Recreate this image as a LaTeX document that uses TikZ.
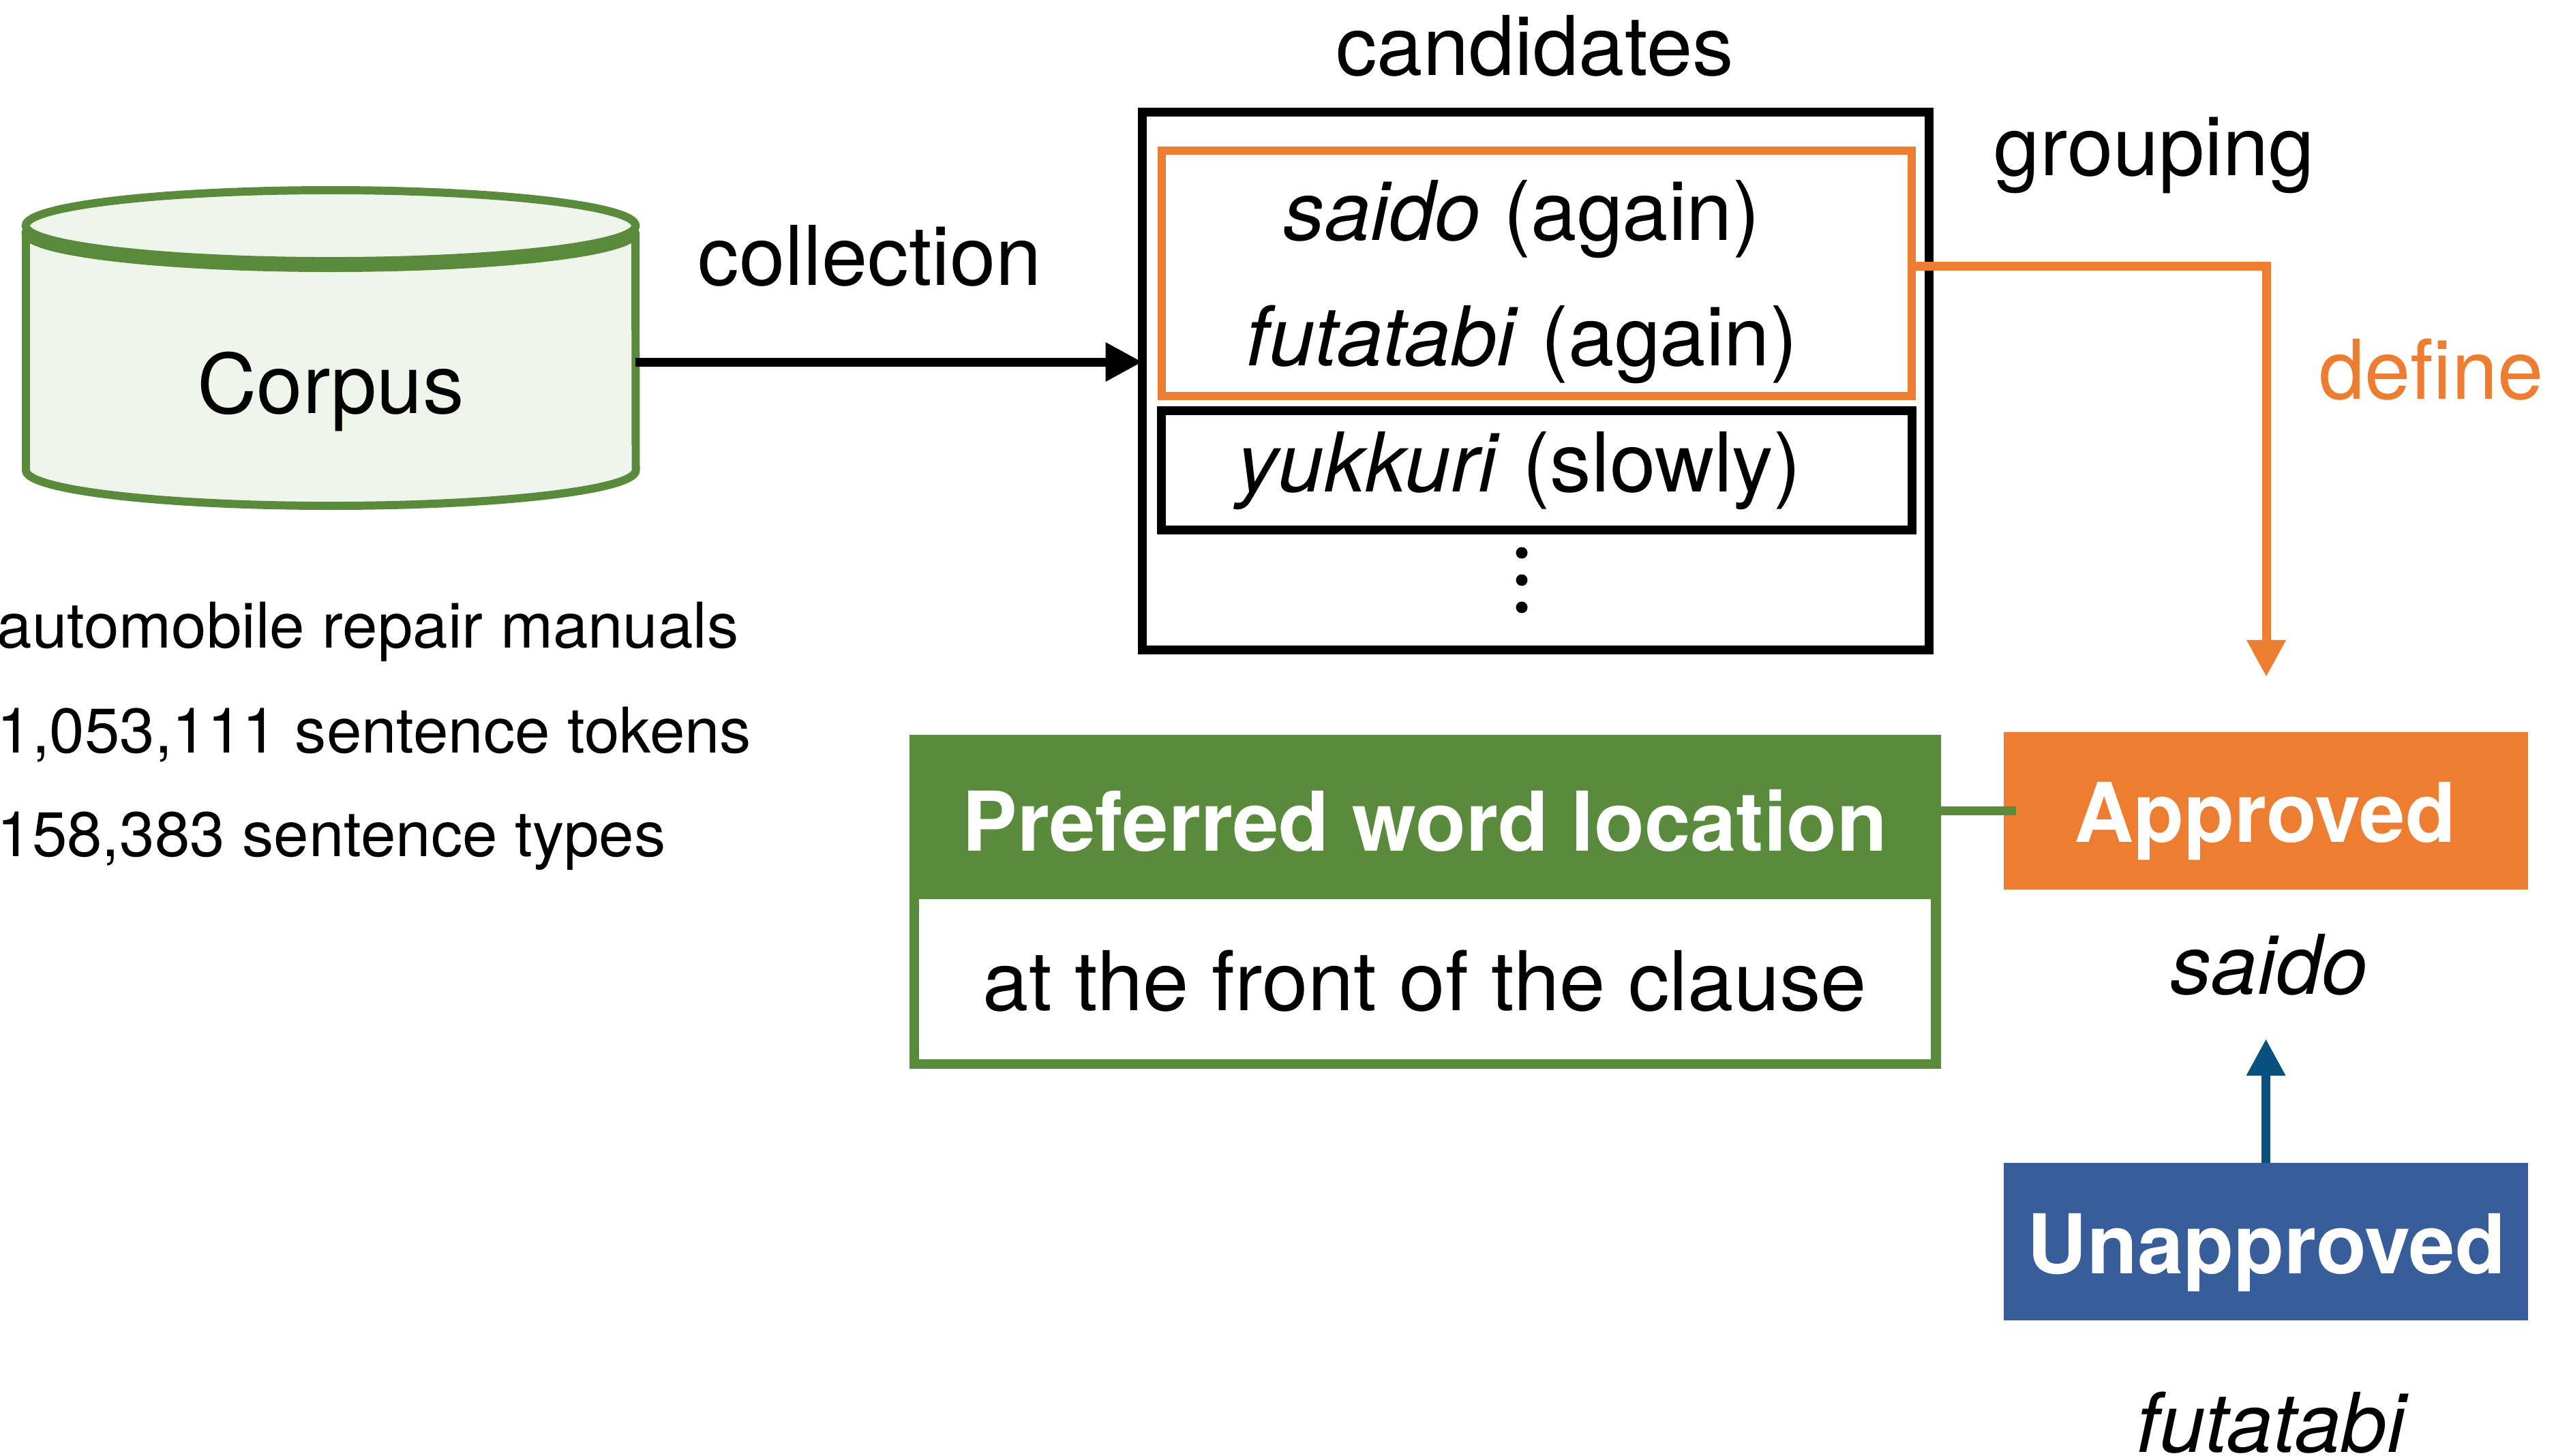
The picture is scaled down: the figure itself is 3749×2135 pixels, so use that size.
\documentclass[tikz,border=0pt]{standalone}
\usepackage{fontspec}
\setmainfont{TeX Gyre Heros}
\usetikzlibrary{arrows.meta}
\definecolor{leafgreen}{RGB}{90,138,60}
\definecolor{palegreen}{RGB}{239,245,234}
\definecolor{tangerine}{RGB}{237,125,49}
\definecolor{steelblue}{RGB}{56,93,155}
\definecolor{navyblue}{RGB}{8,80,126}
\begin{document}
\begin{tikzpicture}[x=0.01cm, y=-0.01cm,
  big/.style={font=\fontsize{34.4}{41}\selectfont, inner sep=0pt, anchor=base},
  bigbold/.style={font=\fontsize{34.4}{41}\selectfont\bfseries, inner sep=0pt, anchor=base, text=white},
  small/.style={font=\fontsize{26.3}{31}\selectfont, inner sep=0pt, anchor=base west},
  box/.style={rectangle, inner sep=0pt, outer sep=0pt},
  tipped/.style={-{Triangle[length=0.54cm,width=0.54cm]}},
  wire/.style={line width=3.7pt}]
\useasboundingbox (0,0) rectangle (3749,2135);
\fill[white] (0,0) rectangle (3749,2135);

% corpus cylinder
\node[box, minimum width=8.94cm, minimum height=4cm] (can) at (485,531) {};
\draw[leafgreen, fill=palegreen, line width=3.4pt, line join=round]
  (38,341) -- (38,690)
  arc[start angle=180, end angle=360, x radius=4.47cm, y radius=0.52cm]
  -- (932,341)
  arc[start angle=0, end angle=-180, x radius=4.47cm, y radius=0.52cm]
  -- cycle;
\draw[leafgreen, fill=palegreen, line width=3.4pt] (485,331) ellipse [x radius=4.47cm, y radius=0.52cm];
\node[big] (t-corpus) at (485,606) {Corpus};

% corpus statistics
\node[small] (s1) at (-5,950) {automobile repair manuals};
\node[small] (s2) at (-5,1104) {1,053,111 sentence tokens};
\node[small] (s3) at (-5,1256) {158,383 sentence types};

% candidate list
\node[box, draw=black, line width=3.7pt, minimum width=11.53cm, minimum height=7.88cm] (cand) at (2252.5,559) {};
\node[box, draw=tangerine, line width=3.4pt, minimum width=11cm, minimum height=3.6cm] (grp) at (2254,401) {};
\node[box, draw=black, line width=3.7pt, minimum width=11cm, minimum height=1.74cm] (slow) at (2254,690) {};
\node[big] (t-cand) at (2251,110) {candidates};
\node[big] (t-saido) at (2232,352) {\textit{saido} (again)};
\node[big] (t-futa) at (2232,536) {\textit{futatabi} (again)};
\node[big] (t-yuk) at (2228,721) {\textit{yukkuri} (slowly)};
\fill (2232,811) circle [radius=0.085cm];
\fill (2232,851) circle [radius=0.085cm];
\fill (2232,891) circle [radius=0.085cm];

\node[big] (t-coll) at (1276,418) {collection};
\node[big] (t-group) at (3160,257) {grouping};
\node[big, text=tangerine] (t-define) at (3566,585) {define};

% preferred word location
\node[box, draw=leafgreen, fill=white, line width=4pt, minimum width=14.98cm, minimum height=4.76cm] (pref) at (2090,1323) {};
\node[box, fill=leafgreen, minimum width=15.12cm, minimum height=2.41cm] (pref-head) at (2090,1198.5) {};
\node[bigbold] (t-pref) at (2090,1248) {Preferred word location};
\node[big] (t-front) at (2090,1482) {at the front of the clause};

% approved / unapproved
\node[box, fill=tangerine, minimum width=7.69cm, minimum height=2.31cm] (appr) at (3323.5,1189.5) {};
\node[bigbold] (t-appr) at (3322,1235) {Approved};
\node[big] (t-saido2) at (3328,1458) {\textit{saido}};
\node[box, fill=steelblue, minimum width=7.69cm, minimum height=2.31cm] (unap) at (3323.5,1821.5) {};
\node[bigbold] (t-unap) at (3324,1868) {Unapproved};
\node[big] (t-futa2) at (3333,2130) {\textit{futatabi}};

% connectors
\coordinate (def-end) at (3324,993);
\coordinate (up-end) at (3323.5,1524);
\draw[wire, tipped] (can.east) -- (can.east -| cand.west);
\draw[wire, tangerine, tipped] ([yshift=0.11cm]grp.east) -| (def-end);
\draw[wire, leafgreen] (appr.west -| pref.east) -- ([xshift=0.18cm]appr.west);
\draw[wire, navyblue, tipped] (unap.north) -- (up-end);
\end{tikzpicture}
\end{document}
